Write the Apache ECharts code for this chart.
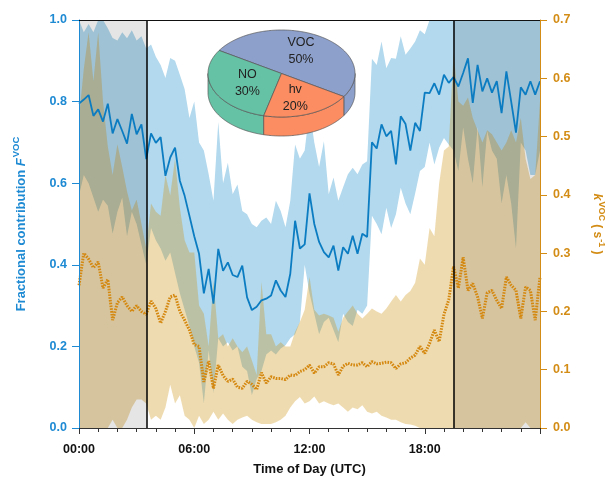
<!DOCTYPE html>
<html><head><meta charset="utf-8">
<script src="https://cdn.jsdelivr.net/npm/echarts@6/dist/echarts.min.js"></script>
<style>html,body{margin:0;padding:0;background:#fff}#c{width:614px;height:481px}</style>
</head><body><div id="c"></div>
<script>
// ---------- data ----------
const times = [0,0.25,0.5,0.75,1,1.25,1.5,1.75,2,2.25,2.5,2.75,3,3.25,3.5,3.75,4,4.25,4.5,4.75,5,5.25,5.5,5.75,6,6.25,6.5,6.75,7,7.25,7.5,7.75,8,8.25,8.5,8.75,9,9.25,9.5,9.75,10,10.25,10.5,10.75,11,11.25,11.5,11.75,12,12.25,12.5,12.75,13,13.25,13.5,13.75,14,14.25,14.5,14.75,15,15.25,15.5,15.75,16,16.25,16.5,16.75,17,17.25,17.5,17.75,18,18.25,18.5,18.75,19,19.25,19.5,19.75,20,20.25,20.5,20.75,21,21.25,21.5,21.75,22,22.25,22.5,22.75,23,23.25,23.5,23.75,24];

// Fractional contribution F_VOC (left axis)
const fMean = [0.795,0.805,0.816,0.765, 0.781,0.751,0.795,0.722, 0.757,0.728,0.697,0.770, 0.720,0.744,0.659,0.722,
  0.699,0.713,0.618,0.663, 0.687,0.606,0.569,0.520, 0.470,0.427,0.330,0.390, 0.305,0.439,0.385,0.406,
  0.375,0.370,0.398,0.320, 0.289,0.297,0.313,0.317, 0.325,0.362,0.337,0.321, 0.378,0.508,0.440,0.450,
  0.575,0.500,0.456,0.431, 0.418,0.447,0.386,0.443, 0.427,0.471,0.427,0.476, 0.468,0.700,0.685,0.744,
  0.715,0.728,0.646,0.764, 0.745,0.680,0.748,0.728, 0.822,0.821,0.845,0.817, 0.866,0.846,0.860,0.837,
  0.870,0.906,0.797,0.890, 0.825,0.857,0.822,0.850, 0.772,0.874,0.800,0.724, 0.835,0.817,0.850,0.817, 0.850];
const fUpper = [1.0,0.97,0.99,0.97, 1.0,1.0,0.98,0.956, 0.95,0.97,0.955,0.975, 0.95,0.96,0.93,0.94,
  0.91,0.89,0.858,0.907, 0.90,0.866,0.83,0.76, 0.80,0.70,0.68,0.622, 0.557,0.75,0.60,0.65,
  0.573,0.597,0.532,0.524, 0.50,0.492,0.508,0.516, 0.50,0.557,0.532,0.492, 0.557,0.695,0.66,0.68,
  0.78,0.70,0.64,0.703, 0.573,0.614,0.557,0.59, 0.622,0.638,0.622,0.646, 0.654,0.905,0.89,0.947,
  0.882,0.907,0.905,0.96, 0.915,0.93,0.947,0.975, 0.965,1,1,1, 1,1,1,1,
  1,1,1,1, 1,1,1,1, 1,1,1,1, 1,1,1,1, 1];
const fLower = [0.57,0.62,0.60,0.565, 0.53,0.56,0.545,0.476, 0.53,0.565,0.47,0.53, 0.50,0.45,0.40,0.49,
  0.46,0.44,0.41,0.43, 0.38,0.33,0.29,0.25, 0.20,0.16,0.06,0.19, 0.085,0.22,0.20,0.21,
  0.19,0.20,0.15,0.14, 0.08,0.12,0.14,0.18, 0.19,0.18,0.195,0.203, 0.22,0.23,0.26,0.40,
  0.33,0.28,0.23,0.26, 0.27,0.24,0.21,0.28, 0.26,0.25,0.29,0.28, 0.30,0.52,0.50,0.475,
  0.54,0.49,0.524,0.589, 0.55,0.524,0.575,0.63, 0.64,0.70,0.646,0.687, 0.711,0.695,0.68,0.63,
  0.737,0.66,0.60,0.737, 0.59,0.728,0.68,0.66, 0.55,0.62,0.55,0.44, 0.70,0.68,0.62,0.62, 0.68];

// k_VOC in s^-1 (right axis)
const kMean = [0.245,0.30,0.29,0.275, 0.285,0.24,0.255,0.185, 0.215,0.225,0.21,0.20, 0.21,0.20,0.195,0.218,
  0.205,0.18,0.20,0.225, 0.228,0.20,0.185,0.168, 0.143,0.14,0.079,0.115, 0.068,0.108,0.09,0.08,
  0.084,0.07,0.068,0.08, 0.075,0.066,0.095,0.077, 0.088,0.085,0.085,0.083, 0.091,0.09,0.097,0.10,
  0.108,0.094,0.105,0.105, 0.112,0.11,0.091,0.106, 0.111,0.108,0.108,0.112, 0.105,0.114,0.11,0.111,
  0.113,0.112,0.102,0.11, 0.112,0.12,0.125,0.14, 0.128,0.145,0.168,0.148, 0.195,0.22,0.277,0.24,
  0.293,0.236,0.248,0.225, 0.188,0.232,0.236,0.219, 0.205,0.259,0.245,0.236, 0.188,0.242,0.236,0.185, 0.259];
const kUpper = [0.532,0.616,0.679,0.595, 0.679,0.56,0.483,0.434, 0.487,0.448,0.406,0.373, 0.392,0.35,0.308,0.385,
  0.371,0.364,0.434,0.399, 0.462,0.378,0.322,0.301, 0.301,0.21,0.196,0.14, 0.252,0.154,0.161,0.14,
  0.154,0.14,0.13,0.14, 0.116,0.091,0.251,0.161, 0.161,0.14,0.147,0.14, 0.14,0.165,0.182,0.203,
  0.259,0.203,0.193,0.196, 0.193,0.189,0.165,0.189, 0.2,0.21,0.196,0.188, 0.196,0.205,0.2,0.196,
  0.205,0.217,0.228,0.217, 0.228,0.235,0.249,0.291, 0.28,0.343,0.329,0.42, 0.476,0.483,0.644,0.56,
  0.553,0.567,0.532,0.511, 0.49,0.511,0.504,0.49, 0.476,0.49,0.511,0.49, 0.532,0.462,0.427,0.434, 0.56];
const kLower = [0,0,0,0, 0,0,0,0.014, 0,0,0.014,0.035, 0.049,0.049,0.042,0.014,
  0.021,0.014,0.035,0.074, 0.042,0.056,0.021,0.014, 0,0.021,0.007,0.014, 0.028,0.014,0.025,0.014,
  0.007,0.014,0.018,0.021, 0.014,0.01,0.007,0.007, 0.007,0.01,0.014,0.021, 0.035,0.046,0.053,0.042,
  0.046,0.054,0.042,0.046, 0.042,0.039,0.042,0.035, 0.028,0.035,0.032,0.039, 0.028,0.025,0.028,0.021,
  0.018,0.014,0.014,0.01, 0.007,0.006,0.004,0, 0,0,0,0, 0,0,0,0,
  0,0,0,0, 0,0,0,0, 0,0,0,0, 0,0.01,0,0, 0];

const nightBounds = [3.55, 19.5];       // sunrise / sunset (h)
const xTickLabels = ['00:00','06:00','12:00','18:00'];

const pieNames = ['VOC','NO','hv'];
const pieValues = [50,30,20];
const pieColors = ['#8da0cb','#66c2a5','#fc8d62'];

// ---------- styles ----------
const BLUE_AX = '#1e8ad3', ORANGE_AX = '#d38d16';
const BLUE_BAND = 'rgb(178,217,237)', TAN_BAND = 'rgba(207,146,14,0.33)';
const FONT = 'Liberation Sans';

const pairs = arr => times.map((t,i)=>[t, arr[i]]);
const triples = (lo, hi) => times.map((t,i)=>[t, lo[i], hi[i]]);

// band renderer: polygon between lower and upper through the axis scales
function bandRenderer(fill){
  return function(params, api){
    if (params.dataIndex !== 0) return null;
    const top = [], bot = [];
    for (let j=0;j<times.length;j++){
      top.push(api.coord([api.value(0,j), api.value(2,j)]));
      bot.push(api.coord([api.value(0,j), api.value(1,j)]));
    }
    return {type:'polygon', shape:{points: top.concat(bot.reverse())}, style:{fill, stroke:null}};
  };
}

// 3D pie inset (pixel layout)
const PIE = {cx:281.5, cy:73.5, rx:73.5, ry:43.5, depth:19, start:32};
function ept(a, dy){ const r=a*Math.PI/180; return [PIE.cx+PIE.rx*Math.cos(r), PIE.cy+dy+PIE.ry*Math.sin(r)]; }
function arc(a0,a1,dy){ const pts=[]; const n=Math.max(2,Math.ceil(Math.abs(a1-a0))); for(let j=0;j<=n;j++){pts.push(ept(a0+(a1-a0)*j/n,dy));} return pts; }
function renderPie(params, api){
  const i = params.dataIndex;
  const total = pieValues.reduce((a,b)=>a+b,0);
  let cum=0; for(let j=0;j<i;j++) cum+=pieValues[j];
  const aEnd = PIE.start + 360 - cum/total*360;
  const aStart = aEnd - pieValues[i]/total*360;
  const children = [];
  [0,360].forEach(k=>{
    const lo=Math.max(aStart,k), hi=Math.min(aEnd,k+180);
    if(hi>lo){
      const pts = arc(lo,hi,0).concat(arc(hi,lo,PIE.depth));
      children.push({type:'polygon', shape:{points:pts}, style:{fill:pieColors[i], stroke:'#555', lineWidth:0.7}, z2:0});
    }
  });
  children.push({type:'polygon', shape:{points:[[PIE.cx,PIE.cy]].concat(arc(aStart,aEnd,0))}, style:{fill:pieColors[i], stroke:'#555', lineWidth:0.7}, z2:10});
  const mid=(aStart+aEnd)/2, r=mid*Math.PI/180;
  const pct = Math.round(pieValues[i]/total*100);
  children.push({type:'text', z2:20, style:{text: pieNames[i]+'\n'+pct+'%', x: PIE.cx+PIE.rx*0.5*Math.cos(r), y: PIE.cy+PIE.ry*0.6*Math.sin(r),
    align:'center', verticalAlign:'middle', fontSize:12.5, fontFamily:FONT, fill:'#222', lineHeight:17}});
  return {type:'group', children};
}

const chart = echarts.init(document.getElementById('c'), null, {renderer:'canvas'});
chart.setOption({
  animation:false,
  backgroundColor:'#fff',
  textStyle:{fontFamily:FONT},
  grid:{left:79, right:70, top:20, bottom:51},
  xAxis:[{
    type:'value', min:0, max:24, interval:6, position:'bottom', z:10,
    axisLine:{show:true, onZero:false, lineStyle:{color:'#333', width:1}},
    axisTick:{show:true, length:6, lineStyle:{color:'#333'}},
    minorTick:{show:true, splitNumber:6, length:4, lineStyle:{color:'#333'}},
    splitLine:{show:false},
    axisLabel:{fontWeight:'bold', fontSize:12.5, color:'#111', margin:15, showMaxLabel:false,
      formatter: v => xTickLabels[Math.round(v/6)] || ''},
    name:'Time of Day (UTC)', nameLocation:'middle', nameGap:35,
    nameTextStyle:{fontWeight:'bold', fontSize:13, color:'#111'}
  },{
    type:'value', min:0, max:24, position:'top', z:10,
    axisLine:{show:true, onZero:false, lineStyle:{color:'#111', width:1}},
    axisTick:{show:false}, axisLabel:{show:false}, splitLine:{show:false}
  }],
  yAxis:[{
    type:'value', min:0, max:1, interval:0.2, position:'left', z:10,
    axisLine:{show:true, onZero:false, lineStyle:{color:BLUE_AX, width:1}},
    axisTick:{show:true, length:7, lineStyle:{color:BLUE_AX}},
    splitLine:{show:false},
    axisLabel:{color:BLUE_AX, fontWeight:'bold', fontSize:12.5, margin:12, formatter:v=>v.toFixed(1)},
    name:'{a|Fractional contribution }{i|F}{s|VOC}', nameLocation:'middle', nameRotate:90, nameGap:48,
    nameTextStyle:{rich:{
      a:{fontWeight:'bold', fontSize:13, color:BLUE_AX, fontFamily:FONT},
      i:{fontWeight:'bold', fontStyle:'italic', fontSize:13, color:BLUE_AX, fontFamily:FONT},
      s:{fontWeight:'bold', fontSize:9.5, color:BLUE_AX, fontFamily:FONT, padding:[0,0,10,1]}
    }}
  },{
    type:'value', min:0, max:0.7, interval:0.1, position:'right', z:10,
    axisLine:{show:true, onZero:false, lineStyle:{color:ORANGE_AX, width:1}},
    axisTick:{show:true, length:7, lineStyle:{color:ORANGE_AX}},
    splitLine:{show:false},
    axisLabel:{color:ORANGE_AX, fontWeight:'bold', fontSize:12.5, margin:13, formatter:v=>v.toFixed(1)},
    name:'{i|k}{s|VOC}{a| ( s}{s|-1}{a| )}', nameLocation:'middle', nameRotate:-90, nameGap:48,
    nameTextStyle:{rich:{
      a:{fontWeight:'bold', fontSize:12, color:ORANGE_AX, fontFamily:FONT},
      i:{fontWeight:'bold', fontStyle:'italic', fontSize:12.5, color:ORANGE_AX, fontFamily:FONT},
      s:{fontWeight:'bold', fontSize:9, color:ORANGE_AX, fontFamily:FONT, padding:[0,0,9,1]}
    }}
  }],
  series:[
    {type:'custom', name:'F range', yAxisIndex:0, data:triples(fLower,fUpper), encode:{x:0, y:[1,2]},
      renderItem:bandRenderer(BLUE_BAND), silent:true, z:2},
    {type:'custom', name:'k range', yAxisIndex:1, data:triples(kLower,kUpper), encode:{x:0, y:[1,2]},
      renderItem:bandRenderer(TAN_BAND), silent:true, z:2},
    {type:'line', name:'night', yAxisIndex:0, data:pairs(fMean), symbol:'none', silent:true,
      lineStyle:{width:0, opacity:0}, z:3,
      markArea:{silent:true, z:3, itemStyle:{color:'rgba(0,0,0,0.1)'},
        data:[[{xAxis:0},{xAxis:nightBounds[0]}],[{xAxis:nightBounds[1]},{xAxis:24}]]},
      markLine:{silent:true, symbol:'none', z:6, label:{show:false},
        lineStyle:{color:'#000', width:1.5, type:'solid'},
        data:[{xAxis:nightBounds[0]},{xAxis:nightBounds[1]}]}
    },
    {type:'line', name:'kVOC', yAxisIndex:1, data:pairs(kMean), symbol:'none', silent:true, z:4,
      lineStyle:{color:'#d4880f', width:3, type:[1.6,1.2]}},
    {type:'line', name:'FVOC', yAxisIndex:0, data:pairs(fMean), symbol:'none', silent:true, z:5,
      lineStyle:{color:'#0b7cc1', width:1.8}},
    {type:'custom', name:'pie', coordinateSystem:'none', data:pieValues, renderItem:renderPie, z:20, silent:true}
  ]
});
</script></body></html>
